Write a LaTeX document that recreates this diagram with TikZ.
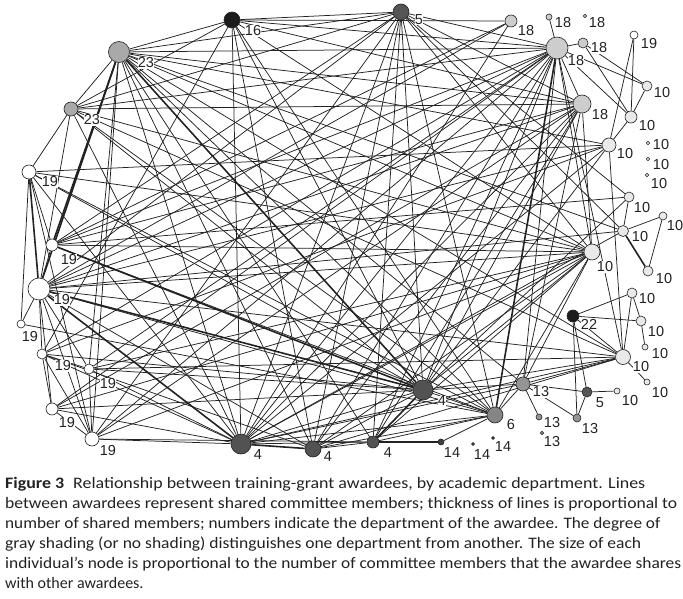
\documentclass[tikz,border=0pt]{standalone}
\usepackage{fontspec}
\setmainfont{Liberation Sans}
\newfontfamily\capfont{Carlito}
\usetikzlibrary{backgrounds}
\definecolor{cBlk}{HTML}{1C1C1C}
\definecolor{cFive}{HTML}{555555}
\definecolor{cFour}{HTML}{525252}
\definecolor{cFourteen}{HTML}{3E3E3E}
\definecolor{cSix}{HTML}{858585}
\definecolor{cThirteen}{HTML}{959595}
\definecolor{cTwentythree}{HTML}{A9A9A9}
\definecolor{cEighteen}{HTML}{CDCDCD}
\definecolor{cTen}{HTML}{E9E9E9}
\definecolor{cLine}{HTML}{222222}
\tikzset{
  nd/.style={circle,draw=cLine,line width=0.6pt,inner sep=0pt},
  lab/.style={font=\fontsize{14.5}{15}\selectfont,fill=white,inner sep=0.4pt,text=cLine},
  edge/.style={draw=cLine,line width=0.75pt},
  thickedge/.style={draw=cLine,line width=1.6pt},
  capline/.style={anchor=base west,inner sep=0pt,font=\capfont\fontsize{16}{18}\selectfont,text=cLine}
}
\begin{document}
\begin{tikzpicture}[x=1pt,y=-1pt]
\useasboundingbox (0,0) rectangle (683,599);
% ---- nodes ----
\node[nd,fill=cBlk,minimum size=16pt] (a16) at (232,20) {};
\node[nd,fill=cTwentythree,minimum size=21pt] (a23) at (119,52) {};
\node[nd,fill=cTwentythree,minimum size=14pt] (b23) at (71,109) {};
\node[nd,fill=white,minimum size=14pt] (c19) at (29,172) {};
\node[nd,fill=cFive,minimum size=16pt] (t5) at (401,12) {};
\node[nd,fill=cEighteen,minimum size=12pt] (s18a) at (511,21) {};
\node[nd,fill=cEighteen,minimum size=6pt] (s18b) at (549,17) {};
\node[nd,fill=cEighteen,minimum size=3.5pt] (s18c) at (585,16) {};
\node[nd,fill=cEighteen,minimum size=22pt] (h18) at (557,48) {};
\node[nd,fill=cEighteen,minimum size=10pt] (s18d) at (583,43) {};
\node[nd,fill=white,minimum size=8pt] (w19b) at (634,35) {};
\node[nd,fill=cTen,minimum size=10pt] (p10a) at (647,86) {};
\node[nd,fill=cEighteen,minimum size=18pt] (h18e) at (582,104) {};
\node[nd,fill=cTen,minimum size=12pt] (p10b) at (631,117) {};
\node[nd,fill=cTen,minimum size=14pt] (p10c) at (609,145) {};
\node[nd,fill=cTen,minimum size=3.5pt] (d10a) at (648,143) {};
\node[nd,fill=cTen,minimum size=3.5pt] (d10b) at (648,159) {};
\node[nd,fill=cTen,minimum size=3.5pt] (d10c) at (647,175) {};
\node[nd,fill=cTen,minimum size=10pt] (p10d) at (629,197) {};
\node[nd,fill=cTen,minimum size=8pt] (p10e) at (663,216) {};
\node[nd,fill=cTen,minimum size=11pt] (p10f) at (623,231) {};
\node[nd,fill=cTen,minimum size=16pt] (g10) at (592,252) {};
\node[nd,fill=cTen,minimum size=10pt] (p10h) at (648,271) {};
\node[nd,fill=cTen,minimum size=10pt] (p10i) at (632,293) {};
\node[nd,fill=cBlk,minimum size=12pt] (n22) at (573,316) {};
\node[nd,fill=cTen,minimum size=10pt] (p10j) at (641,321) {};
\node[nd,fill=cTen,minimum size=6pt] (p10k) at (645,347) {};
\node[nd,fill=cTen,minimum size=15pt] (p10l) at (623,357) {};
\node[nd,fill=cTen,minimum size=6pt] (p10m) at (647,382) {};
\node[nd,fill=cFive,minimum size=10pt] (n5b) at (587,392) {};
\node[nd,fill=cTen,minimum size=6pt] (p10n) at (617,391) {};
\node[nd,fill=cThirteen,minimum size=14pt] (n13a) at (523,384) {};
\node[nd,fill=cThirteen,minimum size=6pt] (n13b) at (539,417) {};
\node[nd,fill=cThirteen,minimum size=3.5pt] (n13c) at (542,433) {};
\node[nd,fill=cThirteen,minimum size=8pt] (n13d) at (577,418) {};
\node[nd,fill=cFour,minimum size=20pt] (n4big) at (423,390) {};
\node[nd,fill=cSix,minimum size=16pt] (n6) at (495,415) {};
\node[nd,fill=cFour,minimum size=12pt] (n4c) at (373,442) {};
\node[nd,fill=cFourteen,minimum size=6pt] (n14a) at (441,442) {};
\node[nd,fill=cFourteen,minimum size=3pt] (n14b) at (473,444) {};
\node[nd,fill=cFourteen,minimum size=3pt] (n14c) at (493,438) {};
\node[nd,fill=cFour,minimum size=20pt] (n4a) at (241,444) {};
\node[nd,fill=cFour,minimum size=16pt] (n4b) at (313,449) {};
\node[nd,fill=white,minimum size=12pt] (w19c) at (52,245) {};
\node[nd,fill=white,minimum size=22pt] (w19big) at (39,289) {};
\node[nd,fill=white,minimum size=8pt] (w19d) at (21,324) {};
\node[nd,fill=white,minimum size=10pt] (w19e) at (42,354) {};
\node[nd,fill=white,minimum size=10pt] (w19f) at (89,369) {};
\node[nd,fill=white,minimum size=12pt] (w19g) at (52,409) {};
\node[nd,fill=white,minimum size=14pt] (w19h) at (92,439) {};
% ---- labels ----
\node[lab] (la16) at (253,31) {16};
\node[lab] (la23) at (146,63) {23};
\node[lab] (lb23) at (92,120) {23};
\node[lab] (lc19) at (50,182) {19};
\node[lab] (lt5) at (419,20) {5};
\node[lab] (ls18a) at (526,31) {18};
\node[lab] (ls18b) at (563,23) {18};
\node[lab] (ls18c) at (597,23) {18};
\node[lab] (lh18) at (576,61) {18};
\node[lab] (ls18d) at (599,48) {18};
\node[lab] (lw19b) at (649,44) {19};
\node[lab] (lp10a) at (662,93) {10};
\node[lab] (lh18e) at (600,115) {18};
\node[lab] (lp10b) at (647,126) {10};
\node[lab] (lp10c) at (625,154) {10};
\node[lab] (ld10a) at (661,145) {10};
\node[lab] (ld10b) at (661,165) {10};
\node[lab] (ld10c) at (659,184) {10};
\node[lab] (lp10d) at (642,208) {10};
\node[lab] (lp10e) at (675,226) {10};
\node[lab] (lp10f) at (640,237) {10};
\node[lab] (lg10) at (605,267) {10};
\node[lab] (lp10h) at (664,279) {10};
\node[lab] (lp10i) at (647,299) {10};
\node[lab] (ln22) at (589,324) {22};
\node[lab] (lp10j) at (656,332) {10};
\node[lab] (lp10k) at (660,354) {10};
\node[lab] (lp10l) at (641,367) {10};
\node[lab] (lp10m) at (660,393) {10};
\node[lab] (ln5b) at (600,403) {5};
\node[lab] (lp10n) at (630,401) {10};
\node[lab] (ln13a) at (541,392) {13};
\node[lab] (ln13b) at (552,423) {13};
\node[lab] (ln13c) at (552,442) {13};
\node[lab] (ln13d) at (590,429) {13};
\node[lab] (ln4big) at (442,401) {4};
\node[lab] (ln6) at (511,425) {6};
\node[lab] (ln4c) at (388,453) {4};
\node[lab] (ln14a) at (452,453) {14};
\node[lab] (ln14b) at (482,455) {14};
\node[lab] (ln14c) at (503,447) {14};
\node[lab] (ln4a) at (258,455) {4};
\node[lab] (ln4b) at (328,457) {4};
\node[lab] (lw19c) at (69,260) {19};
\node[lab] (lw19big) at (62,300) {19};
\node[lab] (lw19d) at (30,337) {19};
\node[lab] (lw19e) at (63,366) {19};
\node[lab] (lw19f) at (108,384) {19};
\node[lab] (lw19g) at (67,423) {19};
\node[lab] (lw19h) at (108,451) {19};
% ---- edges ----
\begin{scope}[on background layer]
\foreach \p/\q in {a16/t5,a16/h18,a16/a23,a16/b23,a16/n4a,a16/n4b,a16/n4big,a16/w19e,a16/h18e,a16/g10,a16/n6,a16/s18a,
  a23/h18,a23/t5,a23/b23,a23/h18e,a23/p10c,a23/g10,a23/n4a,a23/n4b,a23/n6,a23/w19h,a23/n4c,a23/n13a,a23/p10l,a23/w19f,a23/p10f,
  b23/c19,b23/h18,b23/t5,b23/w19big,b23/n4a,b23/n4big,b23/g10,b23/h18e,b23/n6,b23/p10l,
  c19/w19c,c19/w19d,c19/p10c,c19/n4big,c19/n4a,c19/w19h,c19/n6,c19/g10,
  t5/h18,t5/w19big,t5/w19c,t5/n4a,t5/n4b,t5/n4big,t5/n6,t5/h18e,t5/p10f,t5/w19h,t5/g10,t5/n4c,t5/p10d,
  s18a/w19c,s18a/w19big,s18a/n4a,
  h18/s18b,h18/s18d,h18/h18e,h18/p10a,h18/p10b,h18/n4big,h18/n4a,h18/n4b,h18/n4c,h18/w19big,h18/w19c,h18/w19f,h18/w19h,h18/w19g,h18/n13a,h18/g10,h18/p10l,h18/w19e,
  s18d/p10a,s18d/p10b,w19b/p10b,w19b/p10c,p10a/p10b,p10b/p10c,
  h18e/w19c,h18e/w19big,h18e/n4a,h18e/n4b,h18e/n4c,h18e/n4big,h18e/w19h,h18e/n13a,h18e/g10,h18e/w19g,
  p10c/p10l,p10c/w19big,p10c/n4a,p10c/n4big,p10c/w19e,
  p10d/p10f,p10d/w19c,p10d/n4big,p10f/p10e,p10e/p10h,p10f/w19big,p10f/n4a,
  g10/w19big,g10/w19c,g10/w19f,g10/w19h,g10/n4a,g10/n4b,g10/n4big,g10/n4c,g10/n6,g10/n13a,g10/w19g,
  p10i/p10l,p10i/p10j,p10j/p10k,p10i/n22,n22/p10j,n22/p10l,n22/n5b,n22/n13d,p10l/p10m,p10l/n13a,p10l/w19big,p10l/n4big,p10l/n4a,p10l/w19f,p10l/n4b,
  n13a/n5b,n13a/n13b,n13a/n13d,n5b/n13d,n5b/p10n,n13a/n6,n13a/n4big,n13a/n4a,
  n4big/n6,n4big/n4a,n4big/n4b,n4big/w19e,n4big/w19f,n4big/w19g,
  n4a/n4c,n4a/w19h,n4a/w19g,n4a/w19f,n4a/w19e,n4a/n6,
  n4b/n4c,n4b/w19big,n4b/n6,n4b/w19e,n14a/n6,n6/w19big,n6/w19c,n6/n4c,n4c/w19h,
  w19c/w19big,w19big/w19d,w19big/w19e,w19big/w19f,w19big/w19g,w19big/w19h,w19e/w19f,w19e/w19g,w19g/w19h,w19e/w19h,w19f/w19h,w19d/n6}
  \draw[edge] (\p) -- (\q);
\foreach \p/\q in {a23/n4big,h18/n6,n4big/w19big,n4big/w19c,a23/w19big,a23/w19c,c19/w19big,n4a/w19big,n4c/n14a,p10f/p10h,n4a/n4b,n4big/n4c}
  \draw[thickedge] (\p) -- (\q);
\end{scope}
% ---- caption ----
\node[capline] (cap1) at (5,488) {\resizebox{640pt}{\height}{\textbf{Figure 3}\enspace Relationship between training-grant awardees, by academic department. Lines}};
\node[capline] (cap2) at (5,508) {\resizebox{672pt}{\height}{between awardees represent shared committee members; thickness of lines is proportional to}};
\node[capline] (cap3) at (5,528) {\resizebox{655pt}{\height}{number of shared members; numbers indicate the department of the awardee. The degree of}};
\node[capline] (cap4) at (5,548) {\resizebox{636pt}{\height}{gray shading (or no shading) distinguishes one department from another. The size of each}};
\node[capline] (cap5) at (5,568) {\resizebox{676pt}{\height}{individual’s node is proportional to the number of committee members that the awardee shares}};
\node[capline] (cap6) at (5,588) {with other awardees.};
\end{tikzpicture}
\end{document}
